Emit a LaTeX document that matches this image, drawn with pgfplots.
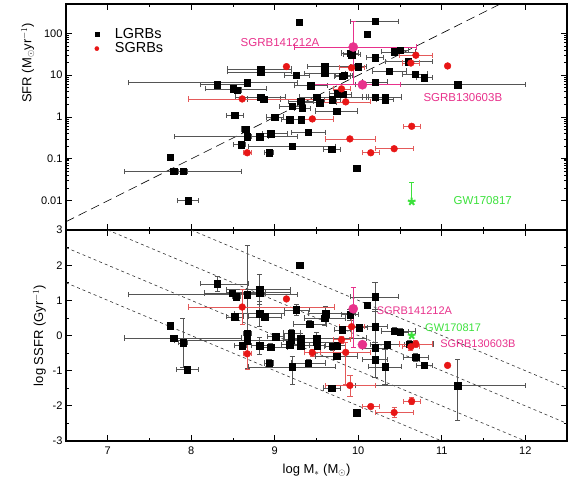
\documentclass[border=0pt]{standalone}
\usepackage{fontspec}
\setmainfont{Liberation Sans}
\usepackage{pgfplots}
\pgfplotsset{compat=1.18}
\usepackage{pgfplotstable}

\definecolor{sgred}{RGB}{232,22,22}
\definecolor{sgredbar}{RGB}{228,90,90}
\definecolor{mag}{RGB}{232,50,140}
\definecolor{gwgreen}{RGB}{60,225,60}
\definecolor{barg}{RGB}{85,85,85}

% top panel: x  SFR  xerr-  xerr+
\pgfplotstableread{
x y xm xp
7.75 0.11 0.03 0.03
7.79 0.05 0.59 0.81
7.90 0.05 0.05 0.05
7.96 0.01 0.13 0.13
8.31 5.9 0.20 0.37
8.50 4.7 0.33 0.40
8.55 4.4 0.05 0.05
8.67 6.6 1.42 0.60
8.83 14 0.40 0.37
8.83 12 0.40 0.37
8.83 3.0 0.30 0.30
8.87 2.7 0.20 0.20
8.52 1.1 0.10 0.10
9.00 1.0 0.10 0.10
9.18 0.86 0.10 0.10
9.32 0.86 0.10 0.10
8.65 0.52 0.05 0.05
8.67 0.34 0.87 0.60
8.82 0.34 0.10 0.10
8.95 0.40 0.10 0.20
8.60 0.22 0.10 0.05
9.21 0.20 0.53 0.52
8.93 0.14 0.05 0.05
9.29 186 0 0
10.20 195 0.30 0.28
10.11 96 0 0
9.90 34 0.10 0.10
9.92 31 0.10 0.10
10.43 36 0.15 0.25
10.50 40 0.10 0.10
10.20 26 0.10 0.10
10.60 21 0.28 0.29
9.26 10 0.15 0.15
9.60 16 0.21 0.35
9.60 11 0.25 0.25
10.00 16 0.10 0.10
9.81 9.5 0.10 0.10
9.83 10 0.10 0.10
10.37 12.6 0.20 0.20
10.68 10.7 0.15 0.15
10.79 8.7 0.10 0.10
9.43 5.6 0.20 0.20
10.20 6.9 0.15 0.15
11.19 5.9 1.23 0.81
9.75 3.6 0.10 0.10
9.82 3.5 0.10 0.10
10.20 3.0 0.15 0.15
10.32 3.0 0.20 0.20
10.32 2.6 0.10 0.10
9.69 2.6 0.10 0.10
9.50 3.0 0.20 0.60
9.31 2.4 0.15 0.15
9.21 1.8 0.15 0.15
9.54 2.2 0.20 0.20
9.33 1.6 0.10 0.10
9.74 1.4 0.25 0.25
9.40 0.43 0.20 0.20
9.68 0.17 0.10 0.10
9.98 0.06 0 0
}\topL

\pgfplotstableread{
x y xm xp
8.61 2.7 0.65 1.10
8.67 0.14 0.05 0.05
9.14 16 0 0
9.92 15 0.15 0.15
10.69 30 0.20 0.20
10.63 19.5 0.10 0.10
11.07 16.6 0 0
9.80 4.7 0.10 0.10
9.85 2.3 0.30 0.30
9.45 0.9 0.10 0.25
10.64 0.6 0.10 0.10
9.90 0.30 0.30 0.30
10.43 0.175 0.22 0.23
10.15 0.14 0.10 0.10
}\topS

\pgfplotstableread{
x y xm xp ym yp
9.94 47 0.70 0.75 41 148
10.05 5.9 0.60 0.45 0 0
}\topM

% bottom panel: x  logSSFR  xerr-  xerr+  yerr-  yerr+
\pgfplotstableread{
x y xm xp ym yp
7.75 0.28 0.03 0.03 0.05 0.05
7.79 -0.07 0.59 0.81 0.05 0.05
7.90 -0.21 0.05 0.05 0.70 0.70
7.95 -0.97 0.13 0.13 0.10 0.10
8.31 1.47 0.20 0.37 0.20 0.20
8.49 1.21 0.33 0.40 0.10 0.10
8.54 1.10 0.05 0.05 0.10 0.10
8.67 1.16 1.42 0.60 2.10 1.40
8.82 1.30 0.40 0.37 0.40 0.45
8.82 1.22 0.40 0.37 0.10 0.10
8.52 0.53 0.10 0.10 0.10 0.10
8.82 0.62 0.30 0.30 0.35 0.35
8.88 0.53 0.20 0.20 0.10 0.10
8.67 0.06 0.05 0.05 0.10 0.10
8.67 -0.15 0.87 0.60 0.10 0.10
8.61 -0.29 0.10 0.05 0.10 0.10
8.82 -0.29 0.10 0.10 0.25 0.25
8.95 -0.33 0.10 0.20 0.10 0.10
8.93 -0.78 0.05 0.05 0.10 0.10
9.01 -0.03 0.10 0.10 0.10 0.10
9.20 0.07 0.10 0.10 0.10 0.10
9.20 -0.12 0.10 0.10 0.10 0.10
9.18 -0.26 0.10 0.10 0.10 0.10
9.21 -0.89 0.53 0.52 0.50 0.30
9.30 2.00 0 0 0 0
9.26 0.73 0.15 0.15 0.15 0.15
9.31 -0.09 0.15 0.15 0.15 0.15
9.31 -0.29 0.10 0.10 0.10 0.10
9.42 0.33 0.20 0.20 0.10 0.10
9.50 -0.07 0.20 0.60 0.15 0.15
9.50 -0.18 0.20 0.20 0.20 0.20
9.51 -0.29 0.10 0.10 0.10 0.10
9.40 -0.78 0.20 0.20 0.10 0.10
9.61 0.62 0.21 0.35 0.20 0.20
9.60 0.50 0.25 0.25 0.20 0.20
9.90 0.59 0.10 0.10 0.15 0.15
10.11 0.87 0 0 0.05 0.05
10.20 1.10 0.30 0.28 0.40 0.40
10.01 0.22 0.10 0.10 0.10 0.10
9.81 0.16 0.10 0.10 0.10 0.10
10.20 0.25 0.15 0.15 0.50 0.50
10.43 0.13 0.15 0.25 0.10 0.10
10.50 0.10 0.10 0.10 0.10 0.10
10.61 -0.24 0.28 0.29 0.10 0.10
10.69 -0.62 0.15 0.15 0.10 0.10
10.79 -0.85 0.10 0.10 0.05 0.05
11.19 -1.43 1.23 0.81 0.97 0.74
10.35 -0.26 0.20 0.20 0.10 0.10
10.32 -0.89 0.20 0.20 0.50 0.50
10.20 -0.35 0.15 0.15 0.10 0.10
10.20 -0.69 0.15 0.15 0.50 0.50
9.75 -0.29 0.10 0.10 0.10 0.10
9.74 -0.58 0.25 0.25 0.10 0.10
9.69 -0.31 0.10 0.10 0.10 0.10
9.68 -1.49 0.10 0.10 0 0
9.98 -2.19 0 0 0 0
}\botL

\pgfplotstableread{
x y xm xp ym yp
8.61 0.81 0.65 1.10 0.50 0.50
9.14 1.04 0 0 0 0
8.67 -0.52 0.05 0.05 0.45 0.45
9.92 0.25 0.15 0.15 0.30 0.30
9.80 -0.12 0.10 0.10 0.10 0.10
9.85 -0.48 0.30 0.30 0.90 0.30
9.45 -0.49 0.10 0.25 0.10 0.10
10.69 -0.24 0.20 0.20 0.10 0.10
10.63 -0.32 0.10 0.10 0.10 0.10
11.07 -0.85 0 0 0 0
9.90 -1.42 0.30 0.30 0.30 0.30
10.15 -2.02 0.10 0.10 0.05 0.05
10.43 -2.19 0.22 0.23 0.15 0.15
10.64 -1.87 0.10 0.10 0.10 0.10
}\botS

\pgfplotstableread{
x y xm xp ym yp
9.94 0.76 0 0 1.10 0.60
10.05 -0.26 0 0 0 0
}\botM

\pgfplotsset{
  panel/.style={
    scale only axis, width=501pt,
    xmin=6.5, xmax=12.5,
    xtick={7,8,9,10,11,12}, minor x tick num=1,
    axis line style={line width=1.1pt},
    major tick style={line width=0.9pt, black},
    minor tick style={line width=0.7pt, black},
    major tick length=6pt, minor tick length=3.5pt,
    tick align=inside,
    tick label style={font=\fontsize{11}{13}\selectfont},
    label style={font=\fontsize{13}{15}\selectfont},
    /pgf/number format/assume math mode=true,
    clip=true,
  },
  lg/.style={only marks, mark=square*, mark size=3.2pt, black,
    mark options={fill=black, draw=black}},
  sg/.style={only marks, mark=*, mark size=3.4pt, sgred,
    mark options={fill=sgred, draw=sgred}},
  ebx/.style={error bars/.cd, x dir=both, x explicit,
    error bar style={#1, line width=0.6pt},
    error mark options={rotate=90, #1, mark size=2.6pt, line width=0.6pt},
    /pgfplots/.cd},
  ebxy/.style={error bars/.cd, x dir=both, x explicit, y dir=both, y explicit,
    error bar style={#1, line width=0.6pt},
    error mark options={rotate=90, #1, mark size=2.6pt, line width=0.6pt},
    /pgfplots/.cd},
}

\begin{document}
\begin{tikzpicture}
\path (-66pt,-44pt) rectangle (509pt,441pt);

% ---------------- top panel ----------------
\begin{axis}[panel, at={(0,211pt)}, anchor=south west, height=226pt,
  ymode=log, ymin=0.002, ymax=501.2,
  ytick={0.01,0.1,1,10,100}, yticklabels={0.01,0.1,1,10,100},
  xticklabels={},
  ylabel={SFR (M$_\odot$yr$^{-1}$)},
  ylabel style={at={(ticklabel cs:0.74)}},
  legend style={at={(rel axis cs:0.055,0.905)}, anchor=north west, draw=none, fill=none,
    font=\fontsize{14.5}{16}\selectfont, row sep=-1.5pt, inner sep=1pt},
  legend cell align=left,
  legend image code/.code={\path[draw=none, fill=none] (-2pt,0pt) (16pt,0pt); \draw[#1] plot coordinates {(0pt,0pt)};},
]
\addlegendimage{only marks, mark=square*, mark size=2pt, black, mark options={fill=black}}
\addlegendentry{LGRBs}
\addlegendimage{only marks, mark=*, mark size=2.1pt, sgred, mark options={fill=sgred}}
\addlegendentry{SGRBs}

\addplot[forget plot, black, line width=0.6pt, dash pattern=on 9pt off 5pt]
  coordinates {(6.5,0.00316) (11.7,501)};

\addplot[forget plot, lg, ebx=barg] table[x=x, y=y, x error minus=xm, x error plus=xp] {\topL};
\addplot[forget plot, sg, ebx=sgredbar] table[x=x, y=y, x error minus=xm, x error plus=xp] {\topS};
\addplot[forget plot, only marks, mark=*, mark size=4.6pt, mag, mark options={fill=mag, draw=mag},
  ebxy=mag]
  table[x=x, y=y, x error minus=xm, x error plus=xp, y error minus=ym, y error plus=yp] {\topM};
\addplot[forget plot, only marks, mark=star, mark size=4pt, gwgreen, mark options={line width=2pt},
  error bars/.cd, y dir=plus, y explicit,
  error bar style={gwgreen, line width=0.8pt},
  error mark options={rotate=90, gwgreen, mark size=2.6pt, line width=0.6pt}]
  table[x=x, y=y, y error plus=yp] {
x y yp
10.64 0.0095 0.018
};

\node[anchor=west, text=mag, font=\fontsize{11.5}{13}\selectfont] at (axis cs:8.55,59) {SGRB141212A};
\node[anchor=west, text=mag, font=\fontsize{11.5}{13}\selectfont] at (axis cs:10.74,3.0) {SGRB130603B};
\node[anchor=west, text=gwgreen, font=\fontsize{11.5}{13}\selectfont] at (axis cs:11.1,0.0102) {GW170817};
\end{axis}

% ---------------- bottom panel ----------------
\begin{axis}[panel, at={(0,0)}, anchor=south west, height=211pt,
  ymin=-3, ymax=3, ytick={-3,-2,-1,0,1,2,3}, minor y tick num=1,
  xticklabel style={yshift=-2pt},
  xlabel={log M$_*$ (M$_\odot$)},
  xlabel style={yshift=-3pt},
  ylabel={log SSFR (Gyr$^{-1}$)},
]
\addplot[black!80, line width=0.6pt, dash pattern=on 3pt off 3pt] coordinates {(8,3) (12.5,-1.5)};
\addplot[black!80, line width=0.6pt, dash pattern=on 3pt off 3pt] coordinates {(7,3) (12.5,-2.5)};
\addplot[black!80, line width=0.6pt, dash pattern=on 3pt off 3pt] coordinates {(6.5,2.5) (12,-3)};
\addplot[black!80, line width=0.6pt, dash pattern=on 3pt off 3pt] coordinates {(6.5,1.5) (11,-3)};

\addplot[lg, ebxy=barg] table[x=x, y=y, x error minus=xm, x error plus=xp, y error minus=ym, y error plus=yp] {\botL};
\addplot[sg, ebxy=sgredbar] table[x=x, y=y, x error minus=xm, x error plus=xp, y error minus=ym, y error plus=yp] {\botS};
\addplot[only marks, mark=*, mark size=4.6pt, mag, mark options={fill=mag, draw=mag}, ebxy=mag]
  table[x=x, y=y, x error minus=xm, x error plus=xp, y error minus=ym, y error plus=yp] {\botM};
\addplot[only marks, mark=star, mark size=4pt, gwgreen, mark options={line width=2pt}]
  coordinates {(10.64,0.0)};

\node[anchor=west, text=mag, font=\fontsize{11}{13}\selectfont] at (axis cs:10.18,0.70) {SGRB141212A};
\node[anchor=west, text=gwgreen, font=\fontsize{11}{13}\selectfont] at (axis cs:10.76,0.22) {GW170817};
\node[anchor=west, text=mag, font=\fontsize{11}{13}\selectfont] at (axis cs:10.94,-0.24) {SGRB130603B};
\end{axis}
\end{tikzpicture}
\end{document}
